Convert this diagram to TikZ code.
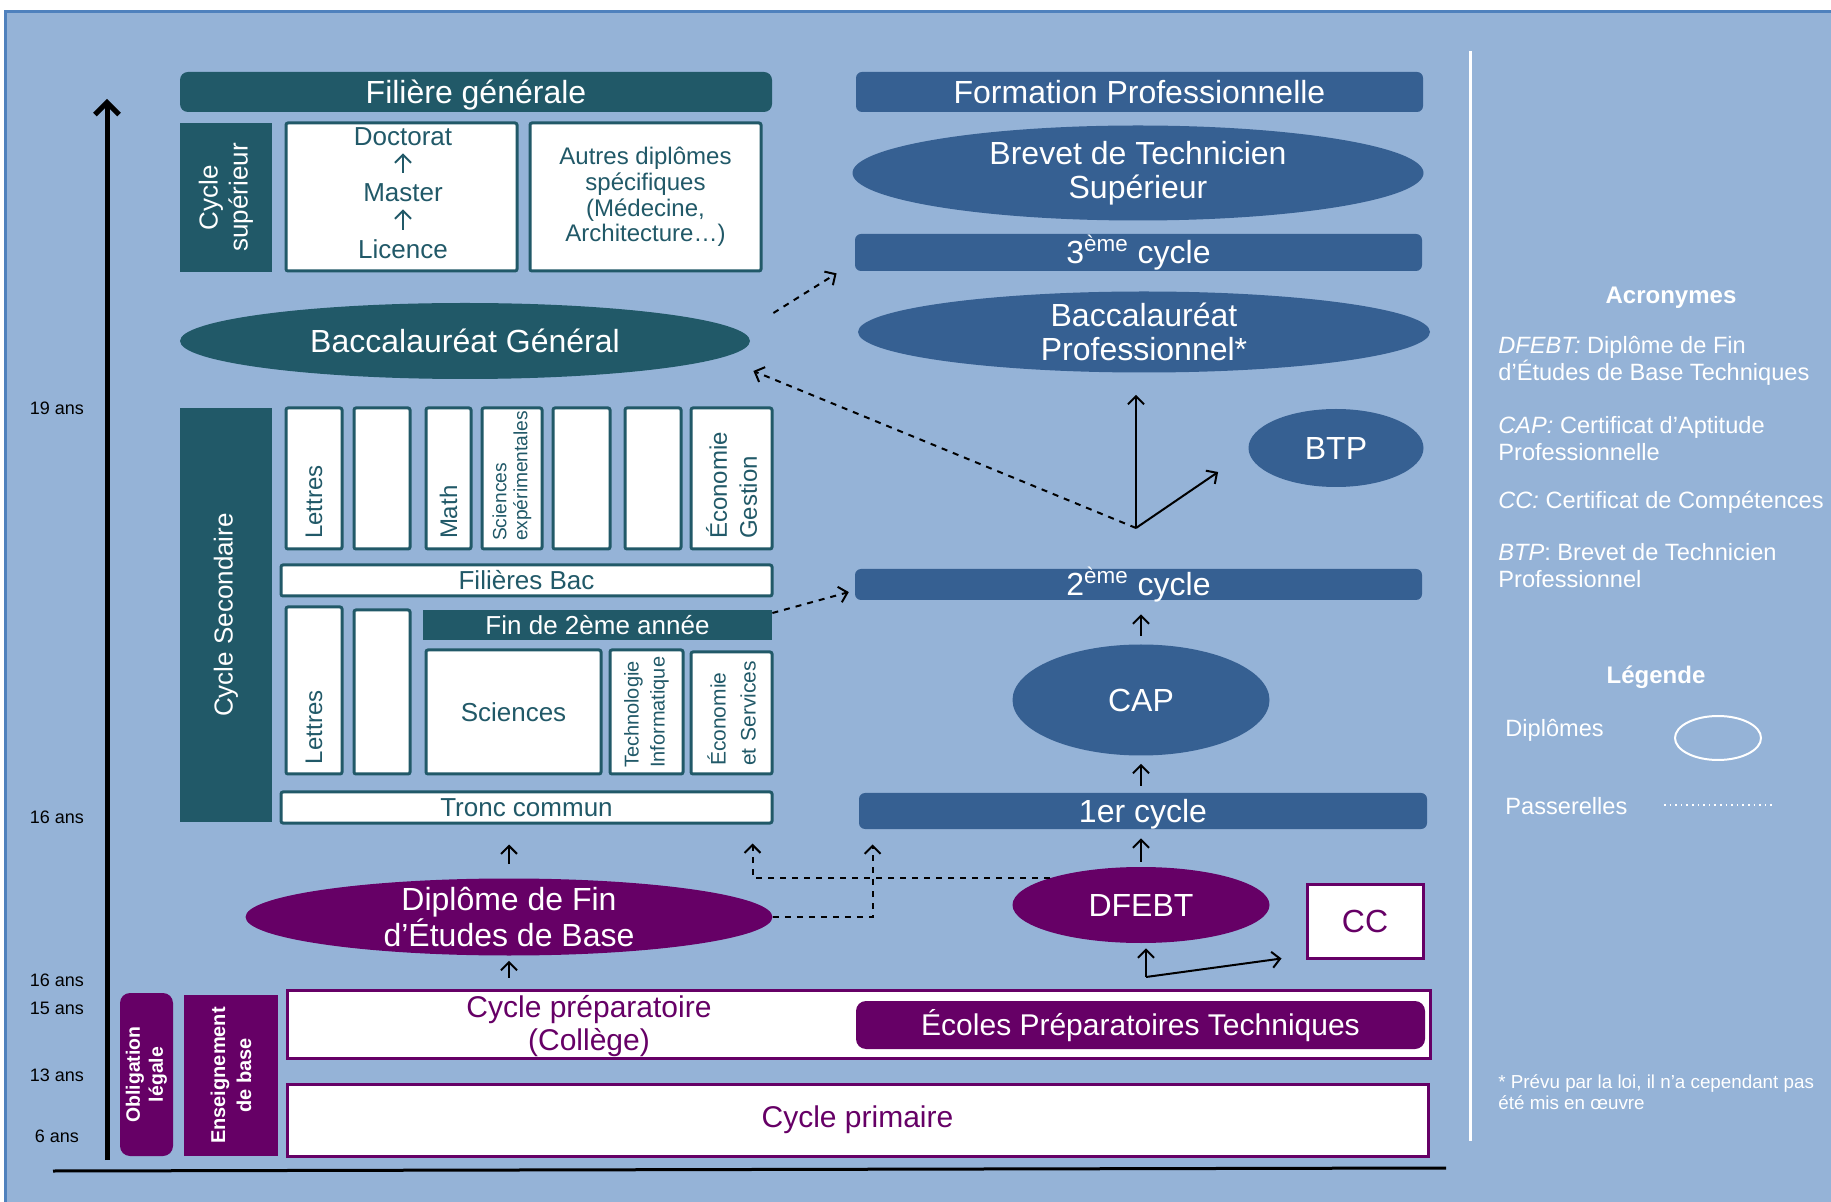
\documentclass[tikz,border=0pt]{standalone}
\usepackage{fontspec}
\setmainfont{Liberation Sans}
\usepackage{xcolor}
\usetikzlibrary{shapes.geometric,arrows.meta}
\definecolor{panel}{HTML}{95B3D7}
\definecolor{panelrim}{HTML}{4F81BD}
\definecolor{petrol}{HTML}{215968}
\definecolor{steel}{HTML}{366092}
\definecolor{plum}{HTML}{660066}
\newcommand\fsz[2]{\fontsize{#1}{#2}\selectfont}

\begin{document}
\begin{tikzpicture}[x=0.5pt, y=-0.5pt,
	>={Straight Barb[length=4pt,width=8pt]},
	petrolbar/.style={fill=petrol, text=white, inner sep=0pt, align=center},
	petrolbox/.style={draw=petrol, fill=white, line width=1.5pt, text=petrol, inner sep=0pt, rounded corners=1pt, align=center},
	vbox/.style={petrolbox, rotate=90, align=left, inner xsep=5pt},
	lmdtext/.style={text=petrol, font=\fsz{13}{15}, inner sep=1pt, text height=9.5pt, text depth=2.5pt},
	steelbar/.style={fill=steel, text=white, rounded corners=3pt, inner sep=0pt, font=\fsz{16}{17}, text height=11.5pt, text depth=0pt},
	diploma/.style={ellipse, fill=#1, text=white, inner xsep=0pt, inner ysep=-5pt, align=center, font=\fsz{16}{17}},
	plumbox/.style={draw=plum, fill=white, line width=1.5pt, text=plum, inner sep=0pt},
	rise/.style={->, line width=1pt},
	pass/.style={->, dashed, line width=1pt},
	age/.style={font=\fsz{9}{10}},
	legtext/.style={text=white, align=left, anchor=west, inner sep=0pt, font=\fsz{11.8}{13.5}}]
	\useasboundingbox (0,0) rectangle (1831,1202);
	% background
	\fill[white] (0,0) rectangle (1831,1202);
	\draw[fill=panel, draw=panelrim, line width=1.5pt] (5,12) rectangle (1845,1215);
	% age axis
	\coordinate (axbot) at (107,1160);
	\coordinate (axtop) at (107,99);
	\draw[-{Straight Barb[length=6pt,width=12pt]}, line width=2.5pt] (axbot) -- (axtop);
	\coordinate (basel) at (53,1171);
	\coordinate (baser) at (1446,1168);
	\draw[line width=1.5pt] (basel) -- (baser);
	\foreach \y/\lbl in {408/19 ans, 817/16 ans, 980/16 ans, 1008/15 ans, 1075/13 ans, 1136/6 ans}
	  \node[age] (age\y) at (57,\y) {\lbl};
	% general track
	\node[petrolbar, rounded corners=4pt, minimum width=296pt, minimum height=20pt, font=\fsz{16}{17}, text height=11.5pt, text depth=0pt] (filgen) at (476,92) {Filière générale};
	\node[petrolbar, rotate=90, minimum width=74.5pt, minimum height=46pt, font=\fsz{13}{15}] (cycsup) at (226,197.5) {Cycle\\supérieur};
	\node[petrolbox, minimum width=115.5pt, minimum height=74pt] (lmd) at (401.5,197) {};
	\node[lmdtext] (doct) at (403,139) {Doctorat};
	\node[lmdtext] (mast) at (403,195) {Master};
	\node[lmdtext] (lic) at (403,252) {Licence};
	\draw[rise, petrol, shorten <=4pt] (lic) -- (mast);
	\draw[rise, petrol, shorten <=4pt] (mast) -- (doct);
	\node[petrolbox, minimum width=115.5pt, minimum height=74pt, font=\fsz{12}{12.8}] (autres) at (645.5,197) {Autres diplômes\\spécifiques\\(Médecine,\\Architecture…)};
	\node[diploma=petrol, minimum width=285pt, minimum height=38pt] (bacgen) at (465,341) {Baccalauréat Général};
	\node[petrolbar, rotate=90, minimum width=207pt, minimum height=46pt, font=\fsz{13}{15}] (cycsec) at (226,615) {Cycle Secondaire};
	% bac streams
	\node[vbox, minimum width=70.5pt, minimum height=28pt, text width=60.5pt, font=\fsz{12}{13}] (lettresbac) at (314,478.5) {Lettres};
	\node[vbox, minimum width=70.5pt, minimum height=28pt] (videbac1) at (382,478.5) {};
	\node[vbox, minimum width=70.5pt, minimum height=22.5pt, text width=60.5pt, font=\fsz{12}{13}] (math) at (448.5,478.5) {Math};
	\node[vbox, minimum width=70.5pt, minimum height=30pt, text width=62.5pt, inner xsep=4pt, font=\fsz{9.6}{10.5}] (sciexp) at (512,478.5) {Sciences\\expérimentales};
	\node[vbox, minimum width=70.5pt, minimum height=28.5pt] (videbac2) at (581.5,478.5) {};
	\node[vbox, minimum width=70.5pt, minimum height=28pt] (videbac3) at (653,478.5) {};
	\node[vbox, minimum width=70.5pt, minimum height=40.5pt, text width=60.5pt, font=\fsz{12}{15}] (ecogest) at (731.5,478.5) {Économie\\Gestion};
	\node[petrolbox, minimum width=245.5pt, minimum height=15.5pt, font=\fsz{13}{15}] (filbac) at (526.5,580.5) {Filières Bac};
	% common core
	\node[vbox, minimum width=83.5pt, minimum height=28pt, text width=73.5pt, font=\fsz{12}{13}] (lettrestc) at (314,690.5) {Lettres};
	\node[vbox, minimum width=82pt, minimum height=28pt] (videtc) at (382,692) {};
	\node[petrolbar, minimum width=174.5pt, minimum height=15pt, font=\fsz{13}{15}] (fin2) at (597.5,625) {Fin de 2ème année};
	\node[petrolbox, minimum width=87.5pt, minimum height=62pt, font=\fsz{13}{15}] (sciences) at (513.5,712) {Sciences};
	\node[vbox, minimum width=62pt, minimum height=36.5pt, text width=56pt, inner xsep=3pt, font=\fsz{10}{13}] (techinfo) at (646.5,712) {Technologie\\Informatique};
	\node[vbox, minimum width=61pt, minimum height=40.5pt, text width=53pt, inner xsep=4pt, font=\fsz{10.5}{15}] (ecoserv) at (731.5,713) {Économie\\et Services};
	\node[petrolbox, minimum width=245.5pt, minimum height=15.5pt, font=\fsz{13}{15}] (tronc) at (526.5,807.5) {Tronc commun};
	% vocational track
	\node[steelbar, minimum width=283.5pt, minimum height=20pt] (formpro) at (1139.5,92) {Formation Professionnelle};
	\node[diploma=steel, minimum width=285.5pt, minimum height=47.5pt] (bts) at (1138,173) {Brevet de Technicien\\Supérieur};
	\node[steelbar, minimum width=283.5pt, minimum height=18.5pt] (cyc3) at (1138.5,252.5) {3\textsuperscript{ème} cycle};
	\node[diploma=steel, minimum width=286pt, minimum height=40.5pt] (bacpro) at (1144,332) {Baccalauréat\\Professionnel*};
	\node[diploma=steel, minimum width=87.5pt, minimum height=39pt] (btp) at (1336,448) {BTP};
	\coordinate (jct) at (1136,528);
	\node[steelbar, minimum width=283.5pt, minimum height=15.5pt] (cyc2) at (1138.5,584.5) {2\textsuperscript{ème} cycle};
	\node[diploma=steel, minimum width=128.5pt, minimum height=55.5pt] (cap) at (1141,700) {CAP};
	\node[steelbar, minimum width=284pt, minimum height=18pt] (cyc1) at (1143,811) {1er cycle};
	% basic education
	\node[diploma=plum, minimum width=128.5pt, minimum height=38pt] (dfebt) at (1141,905) {DFEBT};
	\node[plumbox, minimum width=58pt, minimum height=37pt, font=\fsz{16}{17}] (cc) at (1365,921) {CC};
	\coordinate (ccjct) at (1146,977);
	\node[diploma=plum, minimum width=263.5pt, minimum height=38.5pt] (dfeb) at (509,917) {Diplôme de Fin\\d’Études de Base};
	\node[fill=plum, text=white, rounded corners=5pt, rotate=90, minimum width=81.5pt, minimum height=26.5pt, inner sep=0pt, align=center, font=\bfseries\fsz{9.7}{11.5}] (oblig) at (146.5,1074.5) {Obligation\\légale};
	\node[fill=plum, text=white, rotate=90, minimum width=80.5pt, minimum height=47pt, inner sep=0pt, align=center, font=\bfseries\fsz{10}{13}] (enseig) at (231,1075.5) {Enseignement\\de base};
	\node[plumbox, minimum width=571.5pt, minimum height=34pt] (prep) at (858.5,1024) {};
	\node[text=plum, align=center, inner sep=0pt, font=\fsz{15}{16.5}] (preptxt) at (589,1026) {Cycle préparatoire\\(Collège)};
	\node[fill=plum, text=white, rounded corners=5pt, minimum width=284.5pt, minimum height=24pt, inner sep=0pt, font=\fsz{15}{16.5}, text height=10.8pt, text depth=0pt] (ept) at (1140.5,1025) {Écoles Préparatoires Techniques};
	\node[plumbox, minimum width=570.5pt, minimum height=36pt, font=\fsz{15}{16.5}] (prim) at (857.5,1120) {Cycle primaire};
	% connectors
	\draw[pass] ([xshift=11.5pt,yshift=14pt]bacgen.east) -- ([xshift=-9pt,yshift=-1pt]cyc3.south west);
	\draw[pass] (jct) -- ([xshift=1.5pt,yshift=-15pt]bacgen.east);
	\draw[rise, shorten >=11pt] (jct) -- (jct |- bacpro.south);
	\draw[rise] (jct) -- ([xshift=-15pt,yshift=-12pt]btp.west);
	\draw[pass, shorten >=3pt] ([yshift=6pt]fin2.east) -- ([yshift=-3pt]cyc2.west);
	\draw[rise, shorten <=4pt, shorten >=7pt] (cap.north) -- (cap.north |- cyc2.south);
	\draw[rise, shorten <=3.5pt, shorten >=4pt] (cap.south |- cyc1.north) -- (cap.south);
	\draw[rise, shorten <=2.5pt, shorten >=4.5pt] (dfebt.north) -- (dfebt.north |- cyc1.south);
	\draw[rise, shorten <=7pt, shorten >=10pt] (dfeb.north) -- (dfeb.north |- tronc.south);
	\draw[rise, shorten <=5.5pt, shorten >=2.5pt] (dfeb.south |- prep.north) -- (dfeb.south);
	\draw[pass, shorten >=7.5pt] (dfeb.east) -| ([xshift=7pt]cyc1.south west);
	\draw[pass, shorten >=9.5pt] (dfebt.north west) -| ([xshift=-10.5pt]tronc.south east);
	\draw[rise] (ccjct) -- ([xshift=2.5pt,yshift=-2.5pt]dfebt.south);
	\draw[rise] (ccjct) -- ([xshift=-12pt,yshift=0.5pt]cc.south west);
	% legend
	\coordinate (sept) at (1470,51);
	\coordinate (sepb) at (1470,1141);
	\draw[white, line width=1.5pt] (sept) -- (sepb);
	\node[text=white, font=\bfseries\fsz{12}{13}] (acro) at (1671,298) {Acronymes};
	\node[legtext] (defdfebt) at (1498,361) {\textit{DFEBT:} Diplôme de Fin\\d’Études de Base Techniques};
	\node[legtext] (defcap) at (1498,439) {\textit{CAP:} Certificat d’Aptitude\\Professionnelle};
	\node[legtext] (defcc) at (1498,502) {\textit{CC:} Certificat de Compétences};
	\node[legtext] (defbtp) at (1498,566) {\textit{BTP}: Brevet de Technicien\\Professionnel};
	\node[text=white, font=\bfseries\fsz{12}{13}] (leg) at (1656,677) {Légende};
	\node[legtext] (legdiplo) at (1505,730) {Diplômes};
	\node[ellipse, draw=white, line width=1pt, minimum width=43pt, minimum height=22pt] (legdip) at (1718,738) {};
	\node[legtext] (legpass) at (1505,806) {Passerelles};
	\coordinate (passl) at (1664,805);
	\coordinate (passr) at (1775,805);
	\draw[white, dotted, line width=0.8pt] (passl) -- (passr);
	\node[legtext, font=\fsz{9.4}{10.5}] (note) at (1498,1092) {* Prévu par la loi, il n'a cependant pas\\été mis en œuvre};
\end{tikzpicture}
\end{document}
